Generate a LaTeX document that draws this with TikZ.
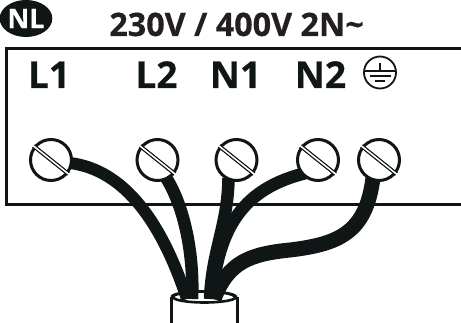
\documentclass[tikz,border=0pt]{standalone}
\usepackage{fontspec}
\setmainfont{Open Sans}[BoldFeatures={FakeBold=0.5}]
\usetikzlibrary{shapes.geometric}
\definecolor{ink}{HTML}{101516}
\definecolor{titleink}{HTML}{231F20}
\tikzset{
  screw/.style={circle,draw=ink,line width=3pt,fill=white,minimum size=41pt,inner sep=0pt},
  wire/.style={draw=ink,line width=12.5pt,line cap=butt},
  frame/.style={draw=ink,line width=3pt},
  term/.style={font=\fontsize{37}{37}\bfseries\selectfont,text=ink,inner sep=0pt,anchor=base},
  slotb/.style={ink,line width=4pt},
  slotw/.style={white,line width=1.5pt},
}
\begin{document}
\begin{tikzpicture}[x=1pt,y=-1pt]
\useasboundingbox (0,0) rectangle (461,323);
% box
\draw[frame] (461,49) -- (6,49) -- (6,205) -- (461,205);
% labels
\node[ellipse,fill=ink,text=white,minimum width=52pt,minimum height=37pt,inner sep=0pt,font=\fontsize{27}{27}\bfseries\selectfont] (nl) at (26,18.5) {NL};
\node[font=\fontsize{32.3}{32.3}\bfseries\selectfont,text=titleink,inner sep=0pt,anchor=base] (title) at (236.5,36) {230V / 400V 2N\char"007E};
\node[term] (l1) at (49,88) {L1};
\node[term] (l2) at (156.5,88) {L2};
\node[term] (n1) at (235.5,88) {N1};
\node[term] (n2) at (320.5,88) {N2};
% earth symbol
\node[circle,draw=ink,line width=1.8pt,minimum size=32pt,inner sep=0pt] (pe) at (380,72.5) {};
\draw[ink,line width=2pt] (pe.center) ++(-0.5,-9.5) -- ++(0,9);
\draw[ink,line width=2pt] (pe.center) ++(-15,-1) -- ++(30,0);
\draw[ink,line width=2pt] (pe.center) ++(-10.5,3.8) -- ++(21,0);
\draw[ink,line width=2pt] (pe.center) ++(-5,8.2) -- ++(10,0);
% cable
\coordinate (c1) at (187,299);
\coordinate (c2) at (192,299);
\coordinate (c3) at (210,299);
\coordinate (c4) at (212,299);
\coordinate (c5) at (214,299);
\node[ellipse,draw=ink,line width=2.6pt,fill=white,minimum width=63pt,minimum height=11pt,inner sep=0pt] (cab) at (204.5,297) {};
\draw[ink,line width=2.8pt] (cab.west) -- (cab.west |- 0,323);
\draw[ink,line width=2.8pt] (cab.east) -- (cab.east |- 0,323);
% wire anchors
\coordinate (s1) at (70,163);
\coordinate (s2) at (165,176);
\coordinate (s3) at (228.5,178);
\coordinate (s4) at (306,173);
\coordinate (s5) at (373,178);
% wires
\draw[wire,line width=12pt] (s1) .. controls (125,170) and (162,223) .. (c1);
\draw[wire] (s2) .. controls (186,208) and (194,260) .. (c2);
\draw[wire] (s3) .. controls (228,225) and (212,250) .. (c3);
\draw[wire] (s4) .. controls (245,188) and (218,225) .. (c4);
\draw[wire,line width=15pt] (s5) .. controls (366,232) and (340,244) .. (290,250) .. controls (250,254) and (228,262) .. (c5);
% front rim of the cable over the wires
\draw[ink,line width=2.6pt] (cab.west) arc[start angle=180,end angle=360,x radius=31.5pt,y radius=-5.5pt];
% screws
\foreach \n/\x in {a/51,b/157.5,c/236.5,d/318,e/379}{
  \node[screw] (screw\n) at (\x,160) {};
  \draw[slotb] (screw\n) ++(-17.5,-14) -- ++(35,28);
  \draw[slotw] (screw\n) ++(-18,-14.4) -- ++(36,28.8);
}
\end{tikzpicture}
\end{document}
